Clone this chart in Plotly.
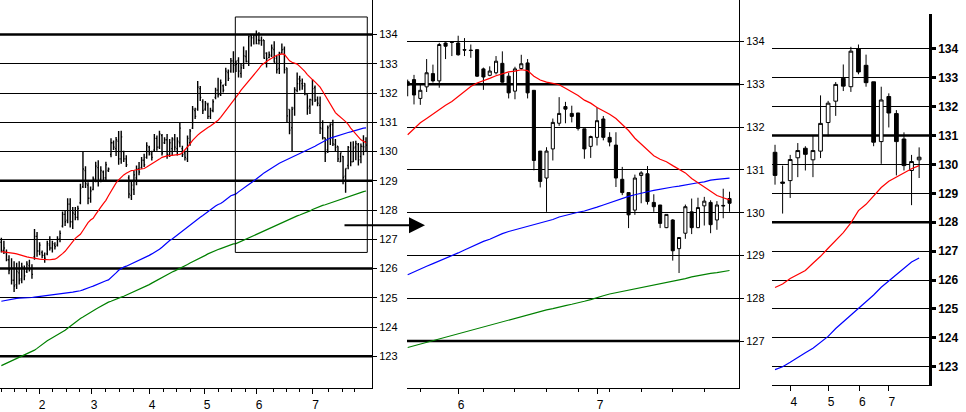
import plotly.graph_objects as go

# ---------------- daily data (index = trading day) ----------------
# bars before the zoom window (days 0..91)
OPEN_EARLY = [126.90,126.62,126.55,126.30,126.00,125.60,125.45,125.85,125.65,126.00,
125.90,126.10,126.00,126.40,127.10,126.60,126.55,126.45,126.50,126.80,
126.70,126.80,126.80,127.00,127.45,127.85,127.65,128.20,127.60,127.85,
127.75,128.25,128.80,129.35,128.85,128.40,128.70,129.05,129.45,129.05,
129.30,129.10,129.35,129.90,130.30,130.10,130.35,129.75,130.00,129.75,
129.10,128.50,128.70,129.10,129.40,129.45,129.70,129.80,130.15,129.90,
130.05,130.45,130.15,130.55,130.30,130.40,129.90,130.10,130.40,130.10,
130.30,130.10,129.95,129.75,130.30,130.80,131.40,131.45,132.15,131.70,
131.45,131.60,131.20,131.40,131.85,132.10,131.95,132.25,132.30,132.70,
132.75,133.10]
HIGH_EARLY = [127.05,126.95,126.65,126.45,126.35,126.25,126.20,126.25,126.20,126.10,
126.25,126.30,126.15,127.35,127.25,126.90,126.62,126.55,126.95,127.10,
126.95,126.90,127.10,127.30,127.95,128.00,128.40,128.40,128.10,128.10,
128.15,128.90,129.98,129.50,128.95,128.80,129.15,129.65,129.70,129.50,
129.35,129.65,129.45,130.45,130.38,130.50,130.70,130.71,130.03,129.87,
129.19,129.00,129.35,129.52,129.64,129.81,129.92,130.32,130.20,130.03,
130.60,130.55,130.71,130.60,130.49,130.60,130.43,130.49,130.60,130.49,
130.99,130.20,130.03,130.55,130.77,131.56,131.50,132.41,132.24,131.79,
131.73,131.67,131.50,131.79,132.18,132.52,132.46,132.29,132.86,132.80,
133.20,133.43]
LOW_EARLY = [126.55,126.50,126.25,125.80,125.45,125.20,125.30,125.45,125.50,125.60,
125.85,125.90,125.65,126.30,126.40,126.45,126.35,126.20,126.45,126.62,
126.55,126.65,126.75,126.90,127.40,127.45,127.55,127.40,127.35,127.65,
127.65,128.20,128.75,128.75,128.20,128.25,128.68,128.95,128.80,128.95,
129.00,129.00,129.30,129.80,130.05,129.85,129.55,129.58,129.64,129.47,
128.40,128.34,128.51,128.85,129.19,129.41,129.47,129.75,129.86,129.69,
129.98,130.03,130.09,129.86,130.26,129.75,129.81,129.86,130.03,129.86,
130.15,129.81,129.69,129.64,130.20,130.77,131.11,131.39,131.73,131.28,
131.39,131.11,131.11,131.34,131.79,131.85,131.90,132.02,132.24,132.41,
132.69,132.69]
CLOSE_EARLY = [126.62,126.70,126.30,125.95,125.60,125.40,125.90,125.60,126.05,125.75,
126.15,126.00,125.80,127.10,126.60,126.80,126.45,126.35,126.85,126.70,
126.85,126.75,127.00,127.20,127.85,127.60,128.20,127.60,127.90,127.75,
128.05,128.75,129.40,128.90,128.40,128.65,129.05,129.50,129.00,129.35,
129.10,129.55,129.40,130.30,130.15,130.40,129.75,130.50,129.75,129.55,
128.55,128.85,129.20,129.40,129.30,129.70,129.55,130.20,129.95,129.80,
130.45,130.15,130.60,129.95,130.40,129.90,130.30,130.45,130.15,130.35,
130.80,129.90,129.80,130.45,130.70,131.45,131.20,132.20,131.85,131.40,
131.65,131.20,131.40,131.70,132.10,131.95,132.35,132.10,132.75,132.50,
133.10,132.95]

# bars inside the zoom window (days 92..143)
OPEN_ZOOM = [133.06,133.11,132.67,132.94,133.25,133.08,133.965,133.99,133.965,133.81,
133.80,133.81,133.36,133.21,133.27,133.49,133.19,132.84,133.37,133.50,
132.86,131.44,130.81,131.49,132.09,132.48,132.32,132.33,131.96,131.55,
131.76,132.19,131.76,131.58,130.78,130.47,130.06,130.87,130.91,130.24,
130.18,129.65,129.83,129.16,129.52,130.02,129.65,130.16,130.24,129.83,
130.17,130.33]
HIGH_ZOOM = [133.11,133.22,133.00,133.59,133.46,133.97,133.98,134.00,134.135,134.08,
133.93,133.81,133.39,133.42,133.66,133.77,133.27,133.41,133.69,133.59,
132.86,131.44,131.53,132.20,132.70,132.59,132.50,132.33,131.96,131.80,
132.46,132.26,131.88,131.88,131.07,130.47,130.89,130.97,131.09,130.43,
130.18,129.96,129.85,129.42,130.19,130.33,130.35,130.37,130.29,130.27,
130.56,130.49]
LOW_ZOOM = [132.72,132.53,132.52,132.82,133.04,132.92,133.59,133.66,133.67,133.66,
133.62,133.17,132.87,133.19,133.23,133.04,132.67,132.65,133.35,132.67,
130.99,130.59,130.02,131.22,132.03,132.09,132.11,131.92,131.26,131.28,
131.57,131.69,131.55,130.60,130.41,129.64,129.95,130.22,130.19,130.02,
129.64,129.64,128.88,128.59,129.39,129.50,129.64,129.70,129.52,129.60,
129.87,130.02]
CLOSE_ZOOM = [132.98,132.75,132.86,133.27,133.08,133.93,133.89,133.98,133.69,133.80,
133.79,133.19,133.17,133.31,133.54,133.05,132.80,133.36,133.48,132.80,
131.22,130.73,131.44,132.11,132.32,132.42,132.25,131.97,131.49,131.78,
132.15,131.76,131.65,130.81,130.47,129.95,130.81,130.93,130.26,130.14,
129.75,129.96,129.11,129.42,130.14,129.65,130.12,130.27,129.72,130.18,
130.16,130.22]

# moving averages
RED_EARLY = [126.58,126.57,126.57,126.56,126.55,126.52,126.50,126.47,126.45,126.43,
126.40,126.38,126.36,126.35,126.34,126.32,126.31,126.30,126.30,126.30,
126.31,126.32,126.37,126.43,126.51,126.59,126.70,126.83,126.95,127.03,
127.10,127.17,127.30,127.45,127.57,127.66,127.72,127.85,128.00,128.10,
128.22,128.33,128.49,128.65,128.80,128.93,129.03,129.12,129.20,129.26,
129.32,129.35,129.36,129.37,129.38,129.39,129.42,129.47,129.52,129.57,
129.62,129.68,129.74,129.80,129.83,129.85,129.86,129.87,129.88,129.89,
129.90,129.96,130.05,130.14,130.26,130.38,130.48,130.56,130.63,130.70,
130.76,130.82,130.87,130.93,130.98,131.07,131.17,131.28,131.39,131.51,
131.63,131.74]
RED_ZOOM = [131.82,131.97,132.10,132.20,132.31,132.40,132.51,132.60,132.72,132.83,
132.95,133.03,133.08,133.14,133.20,133.25,133.29,133.31,133.34,133.32,
133.19,133.10,133.05,133.02,132.99,132.91,132.83,132.74,132.63,132.56,
132.46,132.38,132.30,132.20,132.06,131.92,131.74,131.60,131.46,131.33,
131.25,131.19,131.10,131.02,130.93,130.80,130.70,130.60,130.48,130.40,
130.35,130.30]
BLUE_EARLY = [124.88,124.90,124.91,124.93,124.95,124.97,124.98,124.99,124.99,125.00,
125.00,125.01,125.01,125.02,125.03,125.04,125.05,125.06,125.07,125.08,
125.09,125.10,125.12,125.13,125.15,125.16,125.17,125.18,125.19,125.21,
125.22,125.24,125.27,125.31,125.34,125.37,125.40,125.44,125.47,125.51,
125.54,125.58,125.61,125.68,125.76,125.85,125.94,126.01,126.05,126.08,
126.12,126.15,126.19,126.23,126.27,126.31,126.35,126.40,126.45,126.50,
126.55,126.60,126.66,126.73,126.81,126.88,126.96,127.01,127.08,127.14,
127.21,127.28,127.34,127.41,127.48,127.55,127.62,127.68,127.75,127.81,
127.88,127.95,128.02,128.08,128.14,128.19,128.22,128.28,128.35,128.42,
128.49,128.52]
BLUE_ZOOM = [128.55,128.62,128.69,128.75,128.81,128.87,128.93,128.99,129.06,129.13,
129.20,129.27,129.33,129.38,129.45,129.51,129.56,129.60,129.64,129.68,
129.72,129.76,129.80,129.84,129.90,129.94,129.98,130.01,130.04,130.08,
130.13,130.18,130.23,130.28,130.34,130.38,130.42,130.46,130.49,130.52,
130.55,130.57,130.60,130.62,130.65,130.67,130.70,130.72,130.76,130.78,
130.80,130.81]
GREEN_EARLY = [122.68,122.72,122.77,122.81,122.86,122.90,122.94,122.98,123.02,123.06,
123.10,123.14,123.17,123.21,123.27,123.34,123.41,123.47,123.53,123.58,
123.63,123.68,123.73,123.78,123.83,123.89,123.96,124.03,124.10,124.17,
124.23,124.29,124.34,124.40,124.46,124.51,124.56,124.61,124.66,124.71,
124.76,124.81,124.85,124.88,124.92,124.96,125.00,125.02,125.05,125.09,
125.12,125.16,125.20,125.23,125.27,125.31,125.35,125.40,125.45,125.50,
125.55,125.60,125.65,125.70,125.75,125.80,125.84,125.88,125.92,125.96,
126.01,126.05,126.10,126.14,126.19,126.23,126.28,126.32,126.36,126.41,
126.45,126.50,126.54,126.59,126.62,126.65,126.68,126.71,126.74,126.78,
126.82,126.84]
GREEN_ZOOM = [126.85,126.89,126.93,126.97,127.01,127.05,127.10,127.14,127.18,127.22,
127.26,127.29,127.33,127.37,127.41,127.45,127.49,127.53,127.57,127.61,
127.65,127.69,127.73,127.76,127.80,127.83,127.86,127.89,127.93,127.97,
128.02,128.06,128.10,128.13,128.16,128.18,128.21,128.24,128.27,128.31,
128.34,128.37,128.40,128.43,128.46,128.50,128.53,128.56,128.58,128.60,
128.63,128.65]

OPEN = OPEN_EARLY + OPEN_ZOOM
HIGH = HIGH_EARLY + HIGH_ZOOM
LOW = LOW_EARLY + LOW_ZOOM
CLOSE = CLOSE_EARLY + CLOSE_ZOOM
MA_RED = RED_EARLY + RED_ZOOM
MA_BLUE = BLUE_EARLY + BLUE_ZOOM
MA_GREEN = GREEN_EARLY + GREEN_ZOOM
DAYS = list(range(len(OPEN)))
ZOOM_START = len(OPEN_EARLY)

MONTH_LABELS = ["2", "3", "4", "5", "6", "7"]
MONTH_POS = [14.8, 35.2, 57.9, 79.5, 99.9, 122.1]
WEEK_POS_MAIN = [0.1, 5.0, 9.9, 20.1, 25.4, 30.5, 40.8, 46.5, 51.8, 63.5, 68.8,
                 74.3, 85.1, 90.3, 95.6, 106.7, 111.9, 117.1, 128.2, 133.9, 138.4]
ZOOM_MONTH_LABELS = ["6", "7"]
ZOOM_MONTH_POS = [100.0, 122.0]
WEEK_POS_ZOOM = [94, 104, 109, 114, 119, 124, 129, 134, 139]

# ---------------- weekly data ----------------
W_OPEN = [130.42,129.39,129.44,130.23,130.56,130.16,130.46,131.45,132.19,132.98,
          132.69,134.00,133.43,132.86,130.79,132.35,131.76,130.88,129.79,130.16]
W_HIGH = [130.68,129.96,130.33,130.74,130.63,130.99,132.39,132.20,132.85,133.46,
          134.07,134.15,133.80,132.86,132.69,132.46,131.88,131.11,130.33,130.59]
W_LOW = [129.30,128.30,128.84,129.56,129.79,129.56,130.22,130.97,131.68,132.54,
         132.51,133.12,132.69,130.63,130.02,131.28,129.62,129.79,128.59,129.53]
W_CLOSE = [129.62,129.35,130.17,130.48,130.35,130.48,131.42,132.12,132.77,132.71,
           133.92,133.20,132.83,130.77,132.23,131.78,130.79,129.96,130.10,130.25]
W_RED = [125.74,125.86,126.05,126.18,126.33,126.58,126.82,127.10,127.37,127.64,
         127.98,128.40,128.62,128.92,129.20,129.42,129.57,129.70,129.85,129.96]
W_BLUE = [122.90,123.00,123.15,123.33,123.48,123.64,123.85,124.05,124.32,124.55,
          124.80,125.02,125.25,125.48,125.75,125.97,126.18,126.40,126.62,126.76]
WEEKS = list(range(len(W_OPEN)))
W_MONTH_LABELS = ["4", "5", "6", "7"]
W_MONTH_POS = [2.07, 7.0, 11.1, 15.0]

PRICE_TICKS_MAIN = list(range(123, 135))
THICK_MAIN = [134, 129, 126, 123]
PRICE_TICKS_ZOOM = list(range(127, 135))
THICK_ZOOM = [133, 127]
PRICE_TICKS_WEEK = list(range(123, 135))
THICK_WEEK = [131, 128]
ZOOM_BOX = dict(x0=91.75, x1=143.5, y0=126.55, y1=134.60)

W, H = 966, 412
BLACK = "black"
FONT = "Liberation Sans"

fig = go.Figure()

# panel 1: OHLC bars
fig.add_trace(go.Ohlc(
    x=DAYS, open=OPEN, high=HIGH, low=LOW, close=CLOSE,
    increasing=dict(line=dict(color=BLACK, width=1.4)),
    decreasing=dict(line=dict(color=BLACK, width=1.4)),
    tickwidth=0.4, xaxis="x", yaxis="y", hoverinfo="skip"))
for ys, col in [(MA_GREEN, "#008000"), (MA_BLUE, "#0000ff"), (MA_RED, "#ff0000")]:
    fig.add_trace(go.Scatter(x=DAYS, y=ys, mode="lines", line=dict(color=col, width=1.2),
                             xaxis="x", yaxis="y", hoverinfo="skip"))

# panel 2: candlesticks of the zoom window
zd = DAYS[ZOOM_START:]
fig.add_trace(go.Candlestick(
    x=zd, open=OPEN[ZOOM_START:], high=HIGH[ZOOM_START:], low=LOW[ZOOM_START:],
    close=CLOSE[ZOOM_START:],
    increasing=dict(fillcolor="white", line=dict(color=BLACK, width=1)),
    decreasing=dict(fillcolor=BLACK, line=dict(color=BLACK, width=1)),
    whiskerwidth=0, xaxis="x2", yaxis="y2", hoverinfo="skip"))
for ys, col in [(MA_GREEN, "#008000"), (MA_BLUE, "#0000ff"), (MA_RED, "#ff0000")]:
    fig.add_trace(go.Scatter(x=zd, y=ys[ZOOM_START:], mode="lines",
                             line=dict(color=col, width=1.2),
                             xaxis="x2", yaxis="y2", hoverinfo="skip"))

# panel 3: weekly candlesticks
fig.add_trace(go.Candlestick(
    x=WEEKS, open=W_OPEN, high=W_HIGH, low=W_LOW, close=W_CLOSE,
    increasing=dict(fillcolor="white", line=dict(color=BLACK, width=1)),
    decreasing=dict(fillcolor=BLACK, line=dict(color=BLACK, width=1)),
    whiskerwidth=0, xaxis="x3", yaxis="y3", hoverinfo="skip"))
for ys, col in [(W_BLUE, "#0000ff"), (W_RED, "#ff0000")]:
    fig.add_trace(go.Scatter(x=WEEKS, y=ys, mode="lines", line=dict(color=col, width=1.2),
                             xaxis="x3", yaxis="y3", hoverinfo="skip"))


def xax(domain, rng, anchor, tv, tt, minor_vals=None):
    d = dict(domain=domain, range=rng, anchor=anchor, showgrid=False, zeroline=False,
             showline=True, linecolor=BLACK, linewidth=1, ticks="outside", ticklen=5,
             tickcolor=BLACK, tickvals=tv, ticktext=tt, ticklabelshift=3,
             tickfont=dict(family=FONT, size=12, color=BLACK),
             rangeslider=dict(visible=False), fixedrange=True)
    if minor_vals:
        d["minor"] = dict(tickmode="array", tickvals=minor_vals, ticks="outside",
                          ticklen=3, tickcolor=BLACK, showgrid=False)
    return d


def yax(domain, rng, anchor, tv, lw=1, bold=False):
    return dict(domain=domain, range=rng, anchor=anchor, side="right", showgrid=True,
                gridcolor=BLACK, gridwidth=1, zeroline=False, showline=True,
                linecolor=BLACK, linewidth=lw, ticks="outside", ticklen=4,
                tickwidth=lw, tickcolor=BLACK, tickvals=tv,
                tickfont=dict(family=FONT, size=12 if bold else 11, color=BLACK,
                              weight="bold" if bold else "normal"),
                fixedrange=True)


shapes = []
for lvl in THICK_MAIN:
    shapes.append(dict(type="line", xref="x domain", yref="y", x0=0, x1=1, y0=lvl, y1=lvl,
                       line=dict(color=BLACK, width=2.5), layer="below"))
for lvl in THICK_ZOOM:
    shapes.append(dict(type="line", xref="x2 domain", yref="y2", x0=0, x1=1, y0=lvl, y1=lvl,
                       line=dict(color=BLACK, width=2.5), layer="below"))
for lvl in THICK_WEEK:
    shapes.append(dict(type="line", xref="x3 domain", yref="y3", x0=0, x1=1, y0=lvl, y1=lvl,
                       line=dict(color=BLACK, width=2.5), layer="below"))
shapes.append(dict(type="rect", xref="x", yref="y", line=dict(color=BLACK, width=1),
                   fillcolor="rgba(0,0,0,0)", **ZOOM_BOX))

fig.update_layout(
    width=W, height=H, margin=dict(l=0, r=0, t=0, b=0),
    paper_bgcolor="white", plot_bgcolor="white", showlegend=False,
    font=dict(family=FONT, size=11, color=BLACK),
    boxgap=0.3,
    xaxis=xax([0, 372 / W], [-0.53, 145.35], "y", MONTH_POS, MONTH_LABELS, WEEK_POS_MAIN),
    yaxis=yax([1 - 391 / H, 1], [121.91, 135.18], "x", PRICE_TICKS_MAIN),
    xaxis2=xax([407 / W, 739 / W], [91.89, 144.5], "y2", ZOOM_MONTH_POS, ZOOM_MONTH_LABELS,
               WEEK_POS_ZOOM),
    yaxis2=yax([1 - 391 / H, 1], [125.90, 134.97], "x2", PRICE_TICKS_ZOOM),
    xaxis3=xax([772 / W, 929 / W], [-0.40, 20.3], "y3", W_MONTH_POS, W_MONTH_LABELS),
    yaxis3=yax([1 - 388 / H, 1 - 14 / H], [122.36, 135.21], "x3", PRICE_TICKS_WEEK,
               lw=2.5, bold=True),
    shapes=shapes,
    annotations=[dict(x=425 / W, y=1 - 227 / H, xref="paper", yref="paper",
                      ax=-82, ay=0, axref="pixel", ayref="pixel", text="",
                      showarrow=True, arrowhead=2, arrowsize=1.6, arrowwidth=2,
                      arrowcolor=BLACK)],
)

fig.write_html("out.html")
